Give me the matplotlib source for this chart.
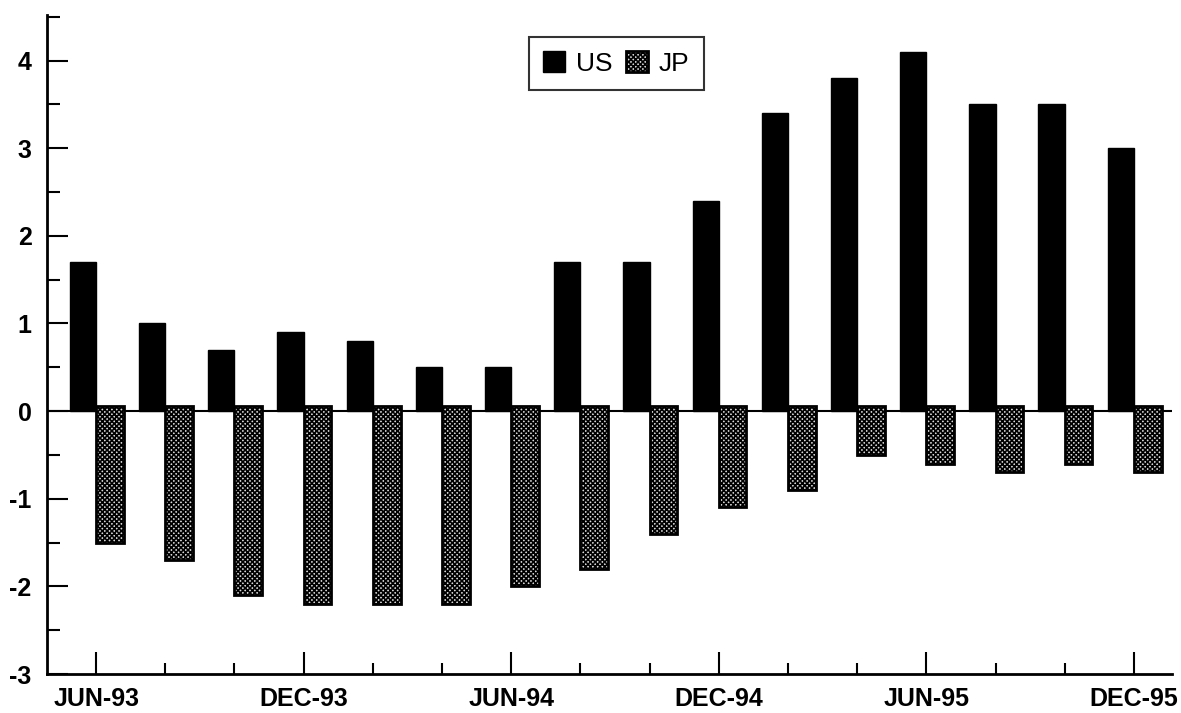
import numpy as np
import matplotlib.pyplot as plt
from matplotlib.ticker import MultipleLocator, FixedLocator

plt.rcParams['font.family'] = ['Liberation Sans', 'DejaVu Sans']
plt.rcParams['axes.unicode_minus'] = False
plt.rcParams['hatch.linewidth'] = 1.2

# every second month, JUN-93 .. DEC-95
months = ["JUN-93", "AUG-93", "OCT-93", "DEC-93", "FEB-94", "APR-94",
          "JUN-94", "AUG-94", "OCT-94", "DEC-94", "FEB-95", "APR-95",
          "JUN-95", "AUG-95", "OCT-95", "DEC-95"]
us = [1.7, 1.0, 0.7, 0.9, 0.8, 0.5, 0.5, 1.7, 1.7, 2.4, 3.4, 3.8, 4.1, 3.5, 3.5, 3.0]
jp = [-1.5, -1.7, -2.1, -2.2, -2.2, -2.2, -2.0, -1.8, -1.4, -1.1, -0.9, -0.5,
      -0.6, -0.7, -0.6, -0.7]

x = np.arange(len(months))

fig = plt.figure(figsize=(11.81, 7.13), dpi=100)
ax = fig.add_axes([47 / 1181, 39 / 713, 1125 / 1181, 659 / 713])

ax.bar(x, us, width=-0.38, align='edge', color='black', edgecolor='black',
       linewidth=1, label='US', zorder=3)
jp_top = 0.06
ax.bar(x, np.array(jp) - jp_top, bottom=jp_top, width=0.4, align='edge',
       color='#d8d8d8', edgecolor='black', hatch='xxxxxxx', linewidth=2,
       label='JP', zorder=3)

ax.axhline(0, color='black', lw=1.5, zorder=2)

ax.set_xlim(-0.71, 15.55)
ax.set_ylim(-3, 4.52)

ax.spines['top'].set_visible(False)
ax.spines['right'].set_visible(False)
ax.spines['left'].set_linewidth(2)
ax.spines['bottom'].set_linewidth(2)

ax.yaxis.set_major_locator(MultipleLocator(1))
ax.yaxis.set_minor_locator(MultipleLocator(0.5))
ax.set_yticks(range(-3, 5))
ax.tick_params(axis='y', which='major', direction='in', length=15, width=1.5,
               labelsize=18, pad=11)
ax.tick_params(axis='y', which='minor', direction='in', length=9, width=1.5)

major_x = x[::3]
ax.xaxis.set_major_locator(FixedLocator(major_x))
ax.xaxis.set_minor_locator(FixedLocator(x))
ax.set_xticklabels([months[i] for i in major_x])
ax.tick_params(axis='x', which='major', direction='in', length=16, width=1.5,
               labelsize=18, pad=9)
ax.tick_params(axis='x', which='minor', direction='in', length=8, width=1.5)
for lab in ax.get_xticklabels() + ax.get_yticklabels():
    lab.set_fontweight('bold')

leg = ax.legend(loc='upper left', bbox_to_anchor=(0.428, 0.967), ncol=2,
                fontsize=19, frameon=True, fancybox=False, edgecolor='black',
                handlelength=0.85, handleheight=0.85, handletextpad=0.4,
                columnspacing=0.5, borderpad=0.55, borderaxespad=0)
leg.get_frame().set_linewidth(1.5)

fig.savefig('out.png', dpi=100)
